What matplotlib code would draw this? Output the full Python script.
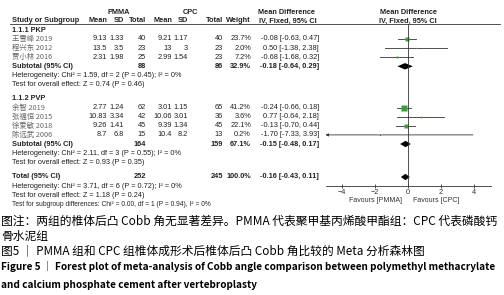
import matplotlib
matplotlib.use('Agg')
import matplotlib.pyplot as plt

# subgroup 1.1.1 PKP
pkp_study = ['王雪峰 2019', '程兴东 2012', '贾小林 2016']
pkp_pmma_mean = [9.13, 13.5, 2.31]
pkp_pmma_sd = [1.33, 3.5, 1.98]
pkp_pmma_n = [40, 23, 25]
pkp_cpc_mean = [9.21, 13, 2.99]
pkp_cpc_sd = [1.17, 3, 1.54]
pkp_cpc_n = [40, 23, 23]
pkp_weight = [23.7, 2.0, 7.2]
pkp_md = [-0.08, 0.50, -0.68]
pkp_lo = [-0.63, -1.38, -1.68]
pkp_hi = [0.47, 2.38, 0.32]

# subgroup 1.1.2 PVP
pvp_study = ['余智 2019', '张福恒 2015', '徐爱敏 2018', '陈远武 2006']
pvp_pmma_mean = [2.77, 10.83, 9.26, 8.7]
pvp_pmma_sd = [1.24, 3.34, 1.41, 6.8]
pvp_pmma_n = [62, 42, 45, 15]
pvp_cpc_mean = [3.01, 10.06, 9.39, 10.4]
pvp_cpc_sd = [1.15, 3.01, 1.34, 8.2]
pvp_cpc_n = [65, 36, 45, 13]
pvp_weight = [41.2, 3.6, 22.1, 0.2]
pvp_md = [-0.24, 0.77, -0.13, -1.70]
pvp_lo = [-0.66, -0.64, -0.70, -7.33]
pvp_hi = [0.18, 2.18, 0.44, 3.93]

# pooled rows: PKP subtotal, PVP subtotal, total
pool_label = ['Subtotal (95% CI)', 'Subtotal (95% CI)', 'Total (95% CI)']
pool_pmma_n = [88, 164, 252]
pool_cpc_n = [86, 159, 245]
pool_weight = [32.9, 67.1, 100.0]
pool_md = [-0.18, -0.15, -0.16]
pool_lo = [-0.64, -0.48, -0.43]
pool_hi = [0.29, 0.17, 0.11]
pool_het = ['Heterogeneity: Chi² = 1.59, df = 2 (P = 0.45); I² = 0%',
            'Heterogeneity: Chi² = 2.11, df = 3 (P = 0.55); I² = 0%',
            'Heterogeneity: Chi² = 3.71, df = 6 (P = 0.72); I² = 0%']
pool_z = ['Test for overall effect: Z = 0.74 (P = 0.46)',
          'Test for overall effect: Z = 0.93 (P = 0.35)',
          'Test for overall effect: Z = 1.18 (P = 0.24)']
subgroup_test = 'Test for subgroup differences: Chi² = 0.00, df = 1 (P = 0.94), I² = 0%'

fig = plt.figure(figsize=(5.04, 2.95), dpi=100)
ax = fig.add_axes([0, 0, 1, 1])
ax.set_xlim(0, 504)
ax.set_ylim(295, 0)
ax.axis('off')

# forest panel: x in mean-difference units, y in figure pixels
fa = fig.add_axes([325.5 / 504, 0, 165 / 504, 1])
fa.set_xlim(-5, 5)
fa.set_ylim(295, 0)
fa.patch.set_alpha(0)

FS = 5.3
TXT = '#222222'
latin = ['Liberation Sans', 'Noto Sans CJK SC']
cjk = ['Noto Sans CJK SC', 'Liberation Sans']
GREEN = '#3aa03a'


def t(x, y, s, ha='left', bold=False, size=FS, color=TXT, family=latin):
    ax.text(x, y, s, ha=ha, va='center', fontsize=size, color=color,
            fontweight='bold' if bold else 'normal', family=family)


# header
t(119, 12, 'PMMA', ha='center', bold=True)
t(190, 12, 'CPC', ha='center', bold=True)
t(287, 12, 'Mean Difference', ha='center', bold=True)
t(408, 12, 'Mean Difference', ha='center', bold=True)
t(12, 21, 'Study or Subgroup', bold=True)
col_x = [107, 124, 146, 172, 188, 223, 251]
for x, s in zip(col_x, ['Mean', 'SD', 'Total', 'Mean', 'SD', 'Total', 'Weight']):
    t(x, 21, s, ha='right', bold=True)
t(288, 21, 'IV, Fixed, 95% CI', ha='center', bold=True)
t(408, 21, 'IV, Fixed, 95% CI', ha='center', bold=True)
ax.plot([10, 500], [23.5, 23.5], color='#333333', lw=0.6)

MD_X = 319


def study_rows(y0, names, pm, ps, pn, cm, cs, cn, w, md, lo, hi):
    for i in range(len(names)):
        y = y0 + 9.1 * i
        t(12, y, names[i], color='#666666', family=cjk, size=FS)
        vals = [f'{pm[i]:g}', f'{ps[i]:g}', f'{pn[i]}', f'{cm[i]:g}',
                f'{cs[i]:g}', f'{cn[i]}', f'{w[i]:.1f}%']
        for x, s in zip(col_x, vals):
            t(x, y, s, ha='right')
        t(MD_X, y, f'{md[i]:.2f} [{lo[i]:.2f}, {hi[i]:.2f}]', ha='right')
        if lo[i] < -5:
            fa.annotate('', xy=(-5, y), xytext=(hi[i], y),
                        arrowprops=dict(arrowstyle='-|>', lw=0.6, color='#333333',
                                        mutation_scale=4, shrinkA=0, shrinkB=0),
                        annotation_clip=False)
        else:
            fa.plot([lo[i], hi[i]], [y, y], color='#333333', lw=0.6)
        fa.plot(md[i], y, 's', color=GREEN, mec='none',
                ms=max(0.8, 4.0 * (w[i] / 41.2) ** 0.5))
    return y0 + 9.1 * len(names)


def pooled_row(y, k):
    t(12, y, pool_label[k], bold=True)
    t(col_x[2], y, f'{pool_pmma_n[k]}', ha='right', bold=True)
    t(col_x[5], y, f'{pool_cpc_n[k]}', ha='right', bold=True)
    t(col_x[6], y, f'{pool_weight[k]:.1f}%', ha='right', bold=True)
    t(MD_X, y, f'{pool_md[k]:.2f} [{pool_lo[k]:.2f}, {pool_hi[k]:.2f}]',
      ha='right', bold=True)
    fa.fill([pool_lo[k], pool_md[k], pool_hi[k], pool_md[k]],
            [y, y - 3.2, y, y + 3.2], color='black', lw=0)
    t(12, y + 9.1, pool_het[k])
    t(12, y + 18.2, pool_z[k])


t(12, 30, '1.1.1 PKP', bold=True)
y = study_rows(39, pkp_study, pkp_pmma_mean, pkp_pmma_sd, pkp_pmma_n,
               pkp_cpc_mean, pkp_cpc_sd, pkp_cpc_n, pkp_weight, pkp_md, pkp_lo, pkp_hi)
pooled_row(y, 0)

t(12, 98.5, '1.1.2 PVP', bold=True)
y = study_rows(107.6, pvp_study, pvp_pmma_mean, pvp_pmma_sd, pvp_pmma_n,
               pvp_cpc_mean, pvp_cpc_sd, pvp_cpc_n, pvp_weight, pvp_md, pvp_lo, pvp_hi)
pooled_row(y, 1)

pooled_row(177, 2)
t(12, 204, subgroup_test, size=FS - 0.5)

# forest axis
fa.plot([0, 0], [23.5, 186], color='#333333', lw=0.6)
for side in ['left', 'right', 'top']:
    fa.spines[side].set_visible(False)
fa.spines['bottom'].set_position(('data', 186))
fa.spines['bottom'].set_bounds(-5, 5)
fa.spines['bottom'].set_linewidth(0.6)
fa.spines['bottom'].set_color('#333333')
fa.set_yticks([])
fa.set_xticks([-4, -2, 0, 2, 4])
fa.tick_params(axis='x', direction='inout', length=3, width=0.6, pad=0.5,
               labelsize=FS, colors='#333333')
for lab in fa.get_xticklabels():
    lab.set_family('Liberation Sans')
fa.text(-0.35, 200, 'Favours [PMMA]', ha='right', va='center', fontsize=FS - 0.3,
        color='#333333', family='Liberation Sans')
fa.text(0.3, 200, 'Favours [CPC]', ha='left', va='center', fontsize=FS - 0.3,
        color='#333333', family='Liberation Sans')

# caption
t(1, 221, '图注：两组的椎体后凸 Cobb 角无显著差异。PMMA 代表聚甲基丙烯酸甲酯组：CPC 代表磷酸钙',
  size=8.5, color='black', family=cjk)
t(1, 236, '骨水泥组', size=8.5, color='black', family=cjk)
t(1, 251, '图5 ｜ PMMA 组和 CPC 组椎体成形术后椎体后凸 Cobb 角比较的 Meta 分析森林图',
  size=8.45, color='black', family=cjk)
t(1, 267, 'Figure 5 ｜ Forest plot of meta-analysis of Cobb angle comparison between polymethyl methacrylate',
  size=7.2, color='black', bold=True, family=cjk)
t(1, 285, 'and calcium phosphate cement after vertebroplasty',
  size=7.2, color='black', bold=True, family=cjk)

fig.savefig('out.png', dpi=100)
